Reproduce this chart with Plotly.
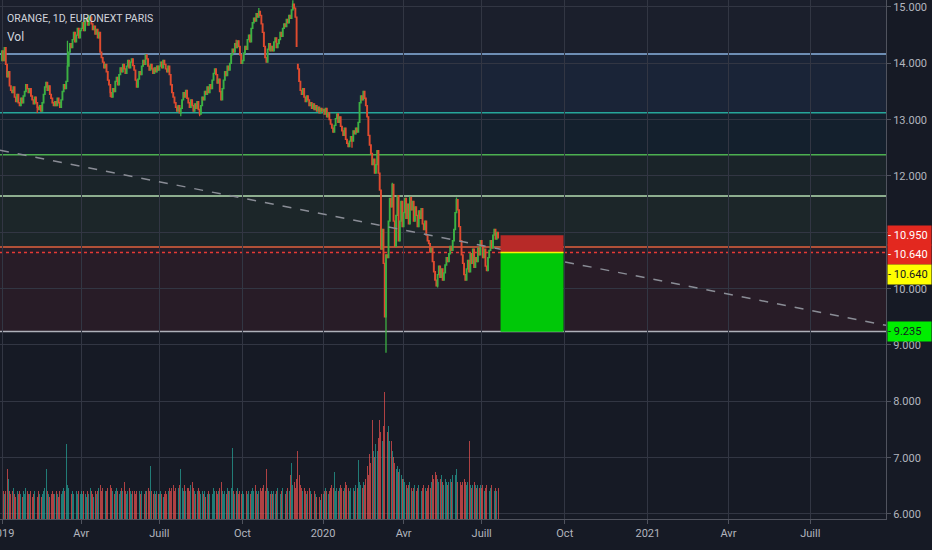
import numpy as np
import pandas as pd
import plotly.graph_objects as go

# ---------------- data ----------------
# daily closes, ORANGE (EURONEXT PARIS), one list per month
c_2019_01 = [14.22, 14.05, 14.28, 13.98, 13.76, 13.85, 13.60, 13.52, 13.48, 13.58, 13.40, 13.32, 13.45, 13.30, 13.25, 13.38, 13.30, 13.42, 13.50, 13.62, 13.55, 13.48]
c_2019_02 = [13.55, 13.42, 13.35, 13.28, 13.40, 13.30, 13.22, 13.18, 13.25, 13.15, 13.30, 13.45, 13.58, 13.66, 13.52, 13.60, 13.45, 13.38, 13.30, 13.25]
c_2019_03 = [13.32, 13.25, 13.38, 13.30, 13.22, 13.35, 13.50, 13.62, 13.55, 13.68, 13.95, 14.20, 14.35, 14.28, 14.42, 14.55, 14.38, 14.50, 14.62, 14.45, 14.58]
c_2019_04 = [14.62, 14.72, 14.58, 14.75, 14.80, 14.68, 14.78, 14.82, 14.70, 14.60, 14.66, 14.52, 14.60, 14.45, 14.55, 14.20, 14.10, 14.02, 13.92, 13.98]
c_2019_05 = [13.85, 13.70, 13.62, 13.48, 13.40, 13.55, 13.50, 13.68, 13.75, 13.62, 13.80, 13.92, 13.85, 13.98, 13.90, 13.82, 13.95, 14.05, 13.92, 14.02, 14.08, 13.96]
c_2019_06 = [13.88, 13.70, 13.58, 13.72, 13.85, 13.80, 13.95, 14.05, 13.98, 14.15, 14.08, 13.95, 13.88, 13.98, 13.90, 13.82, 13.92, 13.85, 13.95, 13.88]
c_2019_07 = [13.95, 14.02, 13.92, 14.05, 13.98, 13.90, 13.85, 13.95, 13.80, 13.62, 13.48, 13.40, 13.30, 13.22, 13.15, 13.25, 13.12, 13.20, 13.35, 13.48, 13.40, 13.52, 13.38]
c_2019_08 = [13.30, 13.22, 13.35, 13.25, 13.15, 13.28, 13.20, 13.32, 13.18, 13.10, 13.25, 13.40, 13.35, 13.50, 13.45, 13.58, 13.48, 13.62, 13.55, 13.70, 13.82, 13.90]
c_2019_09 = [13.80, 13.65, 13.72, 13.50, 13.35, 13.55, 13.70, 13.85, 13.78, 13.95, 13.88, 14.00, 14.15, 14.25, 14.20, 14.35, 14.28, 14.40, 14.30, 14.15, 14.00]
c_2019_10 = [14.05, 14.18, 14.30, 14.25, 14.42, 14.50, 14.38, 14.62, 14.72, 14.80, 14.75, 14.88, 14.82, 14.92, 14.85, 14.70, 14.55, 14.30, 14.10, 14.02, 14.25, 14.35, 14.22]
c_2019_11 = [14.30, 14.22, 14.38, 14.45, 14.28, 14.35, 14.42, 14.55, 14.48, 14.62, 14.70, 14.65, 14.78, 14.72, 14.85, 14.80, 14.95, 15.05, 14.98, 14.82, 14.30]
c_2019_12 = [13.90, 13.68, 13.52, 13.45, 13.55, 13.40, 13.32, 13.42, 13.35, 13.25, 13.30, 13.20, 13.28, 13.18, 13.25, 13.15, 13.22, 13.12, 13.20, 13.15]
c_2020_01 = [13.18, 13.10, 13.20, 13.05, 13.12, 13.00, 12.92, 12.85, 12.78, 12.90, 13.02, 13.10, 12.95, 13.05, 12.88, 12.80, 12.72, 12.85, 12.65, 12.58, 12.52, 12.62]
c_2020_02 = [12.70, 12.62, 12.80, 12.75, 12.85, 12.78, 12.95, 13.30, 13.42, 13.35, 13.50, 13.38, 13.25, 13.05, 12.72, 12.55, 12.40, 12.20, 12.30, 12.05]
c_2020_03 = [12.20, 12.45, 12.05, 11.75, 10.70, 11.05, 10.45, 9.50, 10.60, 10.55, 11.20, 11.60, 11.45, 11.85, 11.20, 10.75, 11.30, 11.65, 10.85, 11.20, 11.55, 11.10]
c_2020_04 = [11.35, 11.60, 11.25, 11.50, 11.15, 11.62, 11.40, 11.55, 11.20, 11.45, 11.30, 11.10, 11.38, 11.25, 11.42, 11.15, 11.05, 11.20, 10.95, 10.85]
c_2020_05 = [10.80, 10.65, 10.72, 10.48, 10.30, 10.15, 10.05, 10.25, 10.40, 10.20, 10.35, 10.15, 10.28, 10.42, 10.55, 10.48, 10.62, 10.75, 10.68, 10.85]
c_2020_06 = [11.05, 11.35, 11.58, 11.40, 11.10, 10.85, 10.60, 10.45, 10.25, 10.15, 10.35, 10.50, 10.30, 10.62, 10.45, 10.70, 10.38, 10.55, 10.48, 10.72, 10.60, 10.85]
c_2020_07 = [10.75, 10.55, 10.70, 10.40, 10.32, 10.55, 10.68, 10.85, 10.72, 10.95, 11.05, 10.88, 11.00, 10.90]

first_open = 14.05
# notable wick extremes / opens
high_marks = {"2019-11-26": 15.12, "2020-03-19": 11.88, "2019-04-09": 14.86, "2019-10-18": 14.98,
              "2020-06-03": 11.62, "2019-03-15": 14.40, "2019-09-24": 14.42}
low_marks = {"2020-03-12": 8.86, "2019-07-24": 13.06, "2019-08-14": 13.06, "2020-05-13": 10.02,
             "2020-02-04": 12.50, "2019-05-07": 13.40, "2019-02-11": 13.12}
open_marks = {"2019-12-02": 13.98}

# daily volume (millions of shares), one list per month
v_2019_01 = [10, 9, 8, 9, 16, 13, 9, 8, 9, 10, 8, 7, 9, 8, 9, 8, 7, 9, 8, 10, 9, 8]
v_2019_02 = [8, 9, 7, 8, 9, 8, 7, 9, 8, 7, 8, 9, 10, 16, 9, 8, 7, 8, 9, 8]
v_2019_03 = [8, 9, 8, 7, 9, 8, 9, 10, 9, 24, 11, 10, 9, 8, 9, 8, 10, 9, 8, 9, 8]
v_2019_04 = [9, 8, 9, 8, 7, 9, 8, 10, 9, 8, 7, 9, 8, 9, 10, 11, 9, 10, 17, 9]
v_2019_05 = [9, 10, 9, 11, 10, 9, 8, 9, 10, 9, 8, 9, 10, 9, 12, 9, 8, 9, 10, 9, 8, 9]
v_2019_06 = [9, 8, 9, 10, 9, 8, 9, 10, 8, 9, 9, 10, 9, 17, 9, 8, 9, 8, 9, 8]
v_2019_07 = [8, 9, 8, 7, 8, 9, 8, 9, 10, 9, 10, 11, 9, 10, 9, 10, 11, 16, 10, 9, 11, 9, 10]
v_2019_08 = [10, 9, 11, 12, 10, 9, 8, 9, 10, 9, 8, 9, 8, 9, 7, 8, 9, 8, 9, 8, 10, 9]
v_2019_09 = [9, 8, 9, 10, 12, 9, 8, 9, 8, 10, 9, 9, 10, 23, 9, 8, 9, 10, 8, 9, 8]
v_2019_10 = [9, 8, 10, 9, 8, 9, 8, 9, 10, 9, 11, 9, 8, 9, 10, 9, 10, 11, 9, 16, 10, 9, 8]
v_2019_11 = [9, 8, 9, 8, 9, 10, 9, 8, 9, 10, 9, 8, 9, 10, 9, 14, 18, 11, 12, 10, 13]
v_2019_12 = [22, 14, 11, 10, 9, 10, 9, 8, 9, 10, 9, 8, 17, 9, 8, 7, 6, 7, 6, 8]
v_2020_01 = [8, 9, 10, 9, 8, 9, 10, 11, 10, 15, 9, 10, 9, 10, 11, 10, 9, 10, 12, 11, 10, 9]
v_2020_02 = [10, 9, 10, 9, 11, 10, 19, 12, 11, 10, 12, 11, 13, 17, 14, 21, 18, 32, 22, 20]
v_2020_03 = [24, 22, 26, 32, 28, 25, 30, 41, 34, 28, 30, 25, 25, 22, 20, 18, 16, 17, 15, 16, 14, 13]
v_2020_04 = [13, 12, 11, 10, 11, 12, 10, 9, 10, 11, 9, 10, 11, 10, 9, 10, 11, 10, 9, 10]
v_2020_05 = [11, 10, 12, 14, 13, 15, 14, 13, 12, 13, 14, 12, 11, 13, 12, 11, 12, 13, 12, 14]
v_2020_06 = [13, 14, 16, 12, 13, 12, 11, 12, 13, 12, 11, 12, 25, 11, 10, 11, 12, 11, 10, 11, 10, 11]
v_2020_07 = [10, 11, 9, 10, 11, 10, 9, 10, 11, 10, 9, 10, 9, 10]

# horizontal levels drawn on the chart
lvl_blue = 14.166
lvl_teal = 13.124
lvl_green = 12.378
lvl_pale = 11.645
lvl_red = 10.74
lvl_white = 9.24

# short position tool
pos_entry = 10.64
pos_stop = 10.95
pos_target = 9.235
pos_start = "2020-07-22"
pos_end = "2020-09-30"

# trend line anchors (date, price)
trend_a = ("2019-01-02", 12.45)
trend_b = ("2020-07-20", 10.71)

month_names = {1: None, 4: "Avr", 7: "Juill", 10: "Oct"}

# ---------------- build ----------------
closes = (c_2019_01 + c_2019_02 + c_2019_03 + c_2019_04 + c_2019_05 + c_2019_06 + c_2019_07 + c_2019_08
          + c_2019_09 + c_2019_10 + c_2019_11 + c_2019_12 + c_2020_01 + c_2020_02 + c_2020_03 + c_2020_04
          + c_2020_05 + c_2020_06 + c_2020_07)
volumes = (v_2019_01 + v_2019_02 + v_2019_03 + v_2019_04 + v_2019_05 + v_2019_06 + v_2019_07 + v_2019_08
           + v_2019_09 + v_2019_10 + v_2019_11 + v_2019_12 + v_2020_01 + v_2020_02 + v_2020_03 + v_2020_04
           + v_2020_05 + v_2020_06 + v_2020_07)

holidays = pd.to_datetime(["2019-01-01", "2019-04-19", "2019-04-22", "2019-05-01", "2019-12-25",
                           "2019-12-26", "2020-01-01", "2020-04-10", "2020-04-13", "2020-05-01"])
days = pd.bdate_range("2019-01-02", "2020-07-20")
days = days[~days.isin(holidays)]
n = min(len(days), len(closes), len(volumes))
closes = closes[:n]
volumes = volumes[:n]
days = days[:n]
future = pd.bdate_range(days[-1] + pd.Timedelta(days=1), "2021-12-31")
cal = days.append(future)
cal_pos = {d.strftime("%Y-%m-%d"): i for i, d in enumerate(cal)}

idx = np.arange(n)
opens = [first_open] + closes[:-1]
for d, v in open_marks.items():
    if d in cal_pos and cal_pos[d] < n:
        opens[cal_pos[d]] = v
highs = [max(o, c) for o, c in zip(opens, closes)]
lows = [min(o, c) for o, c in zip(opens, closes)]
for d, v in high_marks.items():
    if d in cal_pos and cal_pos[d] < n:
        highs[cal_pos[d]] = v
for d, v in low_marks.items():
    if d in cal_pos and cal_pos[d] < n:
        lows[cal_pos[d]] = v

UP = "#3cb043"
DOWN = "#e04b2f"
vol_colors = ["rgba(38,166,154,0.7)" if c >= o else "rgba(239,83,80,0.7)" for o, c in zip(opens, closes)]

# ticks: first bar of each quarter
tickvals, ticktext = [], []
prev = None
for i, d in enumerate(cal):
    key = (d.year, d.month)
    if key != prev and d.month in month_names:
        tickvals.append(i)
        ticktext.append(str(d.year) if d.month == 1 else month_names[d.month])
    prev = key

BG = "#161a25"
GRID = "#323643"
TXT = "#b2b5be"
FONT = "Roboto"

W, H = 932, 550
ML, MR, MT, MB = 0, 46, 0, 31
PLOT_W = W - ML - MR
PX_PER_BAR = 1.259
x_lo = -2 / PX_PER_BAR
x_hi = (PLOT_W - 2) / PX_PER_BAR
y_lo, y_hi = 5.911, 15.124

fig = go.Figure()
fig.add_trace(go.Bar(
    x=idx, y=volumes, marker=dict(color=vol_colors, line=dict(width=0)),
    width=0.75, yaxis="y2", hoverinfo="skip", showlegend=False))
fig.add_trace(go.Candlestick(
    x=idx, open=opens, high=highs, low=lows, close=closes,
    increasing=dict(line=dict(color=UP, width=1.3), fillcolor=UP),
    decreasing=dict(line=dict(color=DOWN, width=1.3), fillcolor=DOWN),
    whiskerwidth=0, showlegend=False, hoverinfo="skip"))

shapes = []
def zone(y0, y1, color):
    shapes.append(dict(type="rect", xref="paper", yref="y", x0=0, x1=1, y0=y0, y1=y1,
                       fillcolor=color, line=dict(width=0), layer="below"))
def hline(y, color, dash="solid", width=1.5):
    shapes.append(dict(type="line", xref="paper", yref="y", x0=0, x1=1, y0=y, y1=y,
                       line=dict(color=color, width=width, dash=dash), layer="between"))

zone(lvl_blue, y_hi, "#1b1f2c")
zone(lvl_teal, lvl_blue, "#1a2437")
zone(lvl_green, lvl_teal, "#14202d")
zone(lvl_pale, lvl_green, "#1a2429")
zone(lvl_red, lvl_pale, "#1c2629")
zone(lvl_white, lvl_red, "#281c27")

hline(lvl_blue, "#8bb3e0")
hline(lvl_teal, "#26a69a")
hline(lvl_green, "#4caf50")
hline(lvl_pale, "#b5dcb2")
hline(lvl_red, "#e0603e")
hline(pos_entry, "#e53935", dash="dot")
hline(lvl_white, "#aeb1ba")

# trend line extended across the chart
ia, ib = cal_pos[trend_a[0]], cal_pos[trend_b[0]]
slope = (trend_b[1] - trend_a[1]) / (ib - ia)
shapes.append(dict(type="line", xref="x", yref="y", x0=x_lo, x1=x_hi,
                   y0=trend_a[1] + slope * (x_lo - ia), y1=trend_a[1] + slope * (x_hi - ia),
                   line=dict(color="#8a8d96", width=1.5, dash="dash"), layer="above"))

# position box
ps, pe = cal_pos[pos_start], cal_pos[pos_end]
shapes.append(dict(type="rect", xref="x", yref="y", x0=ps, x1=pe, y0=pos_entry, y1=pos_stop,
                   fillcolor="#b72a28", line=dict(width=0), layer="above"))
shapes.append(dict(type="rect", xref="x", yref="y", x0=ps, x1=pe, y0=pos_target, y1=pos_entry,
                   fillcolor="#00c808", line=dict(width=0), layer="above"))
shapes.append(dict(type="line", xref="x", yref="y", x0=ps, x1=pe, y0=pos_entry, y1=pos_entry,
                   line=dict(color="#f5f500", width=1.5), layer="above"))

annotations = [
    dict(text="ORANGE, 1D, EURONEXT PARIS", xref="paper", yref="paper", x=0, y=1, xanchor="left",
         yanchor="middle", xshift=5, yshift=-18, showarrow=False,
         font=dict(family=FONT, size=10.5, color="#d1d4dc")),
    dict(text="Vol", xref="paper", yref="paper", x=0, y=1, xanchor="left", yanchor="middle",
         xshift=5, yshift=-37, showarrow=False,
         font=dict(family=FONT, size=12, color="#d1d4dc")),
]
def price_label(y, text, bg, fg):
    annotations.append(dict(text="- " + text, xref="paper", yref="y", x=1, y=y, xanchor="left",
                            yanchor="middle", xshift=1, showarrow=False, bgcolor=bg, width=43, height=19,
                            borderpad=0, align="left", font=dict(family=FONT, size=11, color=fg)))
price_label(10.95, "10.950", "#e3281f", "#ffffff")
price_label(10.598, "10.640", "#e3281f", "#ffffff")
price_label(10.245, "10.640", "#ffff00", "#131722")
price_label(pos_target, "9.235", "#00ee00", "#131722")

fig.update_layout(
    width=W, height=H, margin=dict(l=ML, r=MR, t=MT, b=MB, autoexpand=False),
    paper_bgcolor=BG, plot_bgcolor=BG, showlegend=False, bargap=0,
    shapes=shapes, annotations=annotations,
    font=dict(family=FONT, color=TXT, size=11),
    xaxis=dict(range=[x_lo, x_hi], tickvals=tickvals, ticktext=ticktext, showgrid=True, gridcolor=GRID,
               gridwidth=1, zeroline=False, showline=True, linecolor="#50535e", ticks="outside",
               ticklen=4, tickcolor="#50535e", rangeslider=dict(visible=False),
               ticklabeloverflow="allow", automargin=False,
               tickfont=dict(family=FONT, size=11, color=TXT)),
    yaxis=dict(range=[y_lo, y_hi], side="right", tickvals=list(range(6, 16)),
               ticktext=["%.3f" % v for v in range(6, 16)], showgrid=True, gridcolor=GRID, gridwidth=1,
               zeroline=False, showline=True, linecolor="#50535e", ticks="outside", ticklen=4,
               tickcolor="#50535e", automargin=False, ticklabeloverflow="allow",
               tickfont=dict(family=FONT, size=11, color=TXT)),
    yaxis2=dict(range=[0, 167], overlaying="y", visible=False, fixedrange=True),
)

fig.write_html("out.html", config={"displayModeBar": False},
               post_script="document.body.style.margin='0';document.body.style.overflow='hidden';")
